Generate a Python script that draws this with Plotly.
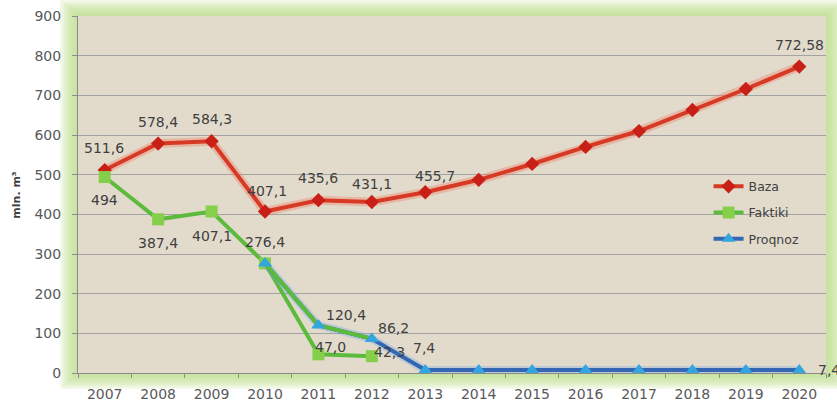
import plotly.graph_objects as go

# --- data -----------------------------------------------------------------
years = list(range(2007, 2021))

baza = [511.6, 578.4, 584.3, 407.1, 435.6, 431.1, 455.7,
        487, 527, 570, 610, 663, 716, 772.58]

faktiki_years = [2007, 2008, 2009, 2010, 2011, 2012]
faktiki = [494, 387.4, 407.1, 276.4, 47.0, 42.3]

proqnoz_years = [2010, 2011, 2012, 2013, 2014, 2015,
                 2016, 2017, 2018, 2019, 2020]
proqnoz = [276.4, 120.4, 86.2, 7.4, 7.4, 7.4, 7.4, 7.4, 7.4, 7.4, 7.4]

y_ticks = [0, 100, 200, 300, 400, 500, 600, 700, 800, 900]

# years whose values are printed next to the marker
baza_labeled = [2007, 2008, 2009, 2010, 2011, 2012, 2013, 2020]
faktiki_labeled = [2007, 2008, 2009, 2011, 2012]
proqnoz_labeled = [2010, 2011, 2012, 2013, 2020]

# --- styling ----------------------------------------------------------------
FONT = "DejaVu Sans"
TXT = "#404040"
RED, RED_MK = "#d63a24", "#c81f16"
GREEN, GREEN_MK = "#5cbb3c", "#86cf4a"
BLUE, BLUE_MK = "#3467b3", "#33a6e0"

# label offsets in pixels (xshift, yshift, xanchor)
baza_off = {2007: (-1, 22, "center"), 2008: (0, 22, "center"),
            2009: (0, 22, "center"), 2010: (2, 21, "center"),
            2011: (0, 22, "center"), 2012: (0, 18, "center"),
            2013: (10, 16, "center"), 2020: (0, 22, "center")}
faktiki_off = {2007: (0, -23, "center"), 2008: (0, -24, "center"),
               2009: (0, -24, "center"), 2011: (12, 7, "center"),
               2012: (18, 4, "center")}
proqnoz_off = {2010: (0, 21, "center"), 2011: (28, 10, "center"),
               2012: (22, 11, "center"), 2013: (-1, 22, "center"),
               2020: (17, 0, "left")}


def fmt(v):
    return str(v).replace(".", ",")


fig = go.Figure()

# soft halo under the red line
fig.add_trace(go.Scatter(x=years, y=baza, mode="lines",
                         line=dict(color="rgba(240,130,110,0.4)", width=9),
                         hoverinfo="skip", showlegend=False))
fig.add_trace(go.Scatter(x=years, y=baza, name="Baza", mode="lines+markers",
                         legendgroup="a",
                         line=dict(color=RED, width=4),
                         marker=dict(symbol="diamond", size=11, color=RED_MK)))
fig.add_trace(go.Scatter(x=faktiki_years, y=faktiki, name="Faktiki",
                         mode="lines+markers", legendgroup="b",
                         line=dict(color=GREEN, width=4),
                         marker=dict(symbol="square", size=12, color=GREEN_MK)))
fig.add_trace(go.Scatter(x=proqnoz_years, y=proqnoz, mode="lines",
                         line=dict(color="rgba(120,170,230,0.35)", width=8),
                         hoverinfo="skip", showlegend=False))
fig.add_trace(go.Scatter(x=proqnoz_years, y=proqnoz, name="Proqnoz",
                         mode="lines+markers", legendgroup="c",
                         line=dict(color=BLUE, width=4),
                         marker=dict(symbol="triangle-up", size=12, color=BLUE_MK)))
# the first forecast segments are drawn green, triangles kept on top
fig.add_trace(go.Scatter(x=proqnoz_years[:3], y=proqnoz[:3], mode="lines",
                         line=dict(color=GREEN, width=4),
                         hoverinfo="skip", showlegend=False))
fig.add_trace(go.Scatter(x=proqnoz_years[:3], y=proqnoz[:3], mode="markers",
                         marker=dict(symbol="triangle-up", size=12, color=BLUE_MK),
                         hoverinfo="skip", showlegend=False))

annotations = []


def add_labels(xs, ys, labeled, offsets):
    for x, v in zip(xs, ys):
        if x in labeled:
            dx, dy, anchor = offsets[x]
            annotations.append(dict(x=x, y=v, xref="x", yref="y", text=fmt(v),
                                    showarrow=False, xshift=dx, yshift=dy,
                                    xanchor=anchor,
                                    font=dict(family=FONT, size=14, color=TXT)))


add_labels(years, baza, baza_labeled, baza_off)
add_labels(faktiki_years, faktiki, faktiki_labeled, faktiki_off)
add_labels(proqnoz_years, proqnoz, proqnoz_labeled, proqnoz_off)

annotations.append(dict(x=-0.094, y=0.5, xref="paper", yref="paper",
                        text="<b>mln. m³</b>", textangle=-90, showarrow=False,
                        font=dict(family=FONT, size=11, color=TXT)))

# green glow around the plotting area, then the beige panel itself
shapes = []
outer = (-0.024, 1.025, -0.045, 1.045)
steps = 8
for i in range(steps):
    t = i / steps
    x0 = outer[0] * (1 - t)
    x1 = 1 + (outer[1] - 1) * (1 - t)
    y0 = outer[2] * (1 - t)
    y1 = 1 + (outer[3] - 1) * (1 - t)
    shapes.append(dict(type="rect", xref="paper", yref="paper",
                       x0=x0, x1=x1, y0=y0, y1=y1, layer="below",
                       line=dict(width=0), fillcolor="rgba(190,222,140,0.18)"))
shapes.append(dict(type="rect", xref="paper", yref="paper", x0=0, x1=1,
                   y0=0, y1=1, layer="below", line=dict(width=0),
                   fillcolor="#e2dbcc"))

fig.update_layout(
    width=837, height=408,
    margin=dict(l=78, r=11, t=16, b=35, autoexpand=False),
    paper_bgcolor="white",
    plot_bgcolor="rgba(0,0,0,0)",
    font=dict(family=FONT, color=TXT),
    shapes=shapes,
    annotations=annotations,
    legend=dict(x=0.843, y=0.564, xanchor="left", yanchor="top",
                bgcolor="rgba(0,0,0,0)", traceorder="grouped",
                tracegroupgap=7,
                font=dict(family=FONT, size=12.5, color=TXT)),
    xaxis=dict(range=[years[0] - 0.5, years[-1] + 0.5], tickvals=years,
               automargin=False,
               showgrid=False, showline=True, linecolor="#8c8c8c",
               ticks="", ticklabelstandoff=8, zeroline=False,
               minor=dict(tick0=years[0] - 0.5, dtick=1, ticks="outside",
                          ticklen=4, tickcolor="#8c8c8c", showgrid=False),
               tickfont=dict(family=FONT, size=14, color="#595959")),
    yaxis=dict(range=[0, 900], tickvals=y_ticks, showgrid=True,
               automargin=False,
               gridcolor="#a3a3a3", gridwidth=1, showline=True,
               linecolor="#8c8c8c", ticks="outside", ticklen=5,
               tickcolor="#8c8c8c", ticklabelstandoff=8, zeroline=False,
               tickfont=dict(family=FONT, size=14, color="#595959")),
    showlegend=True,
)

fig.write_html("out.html")
